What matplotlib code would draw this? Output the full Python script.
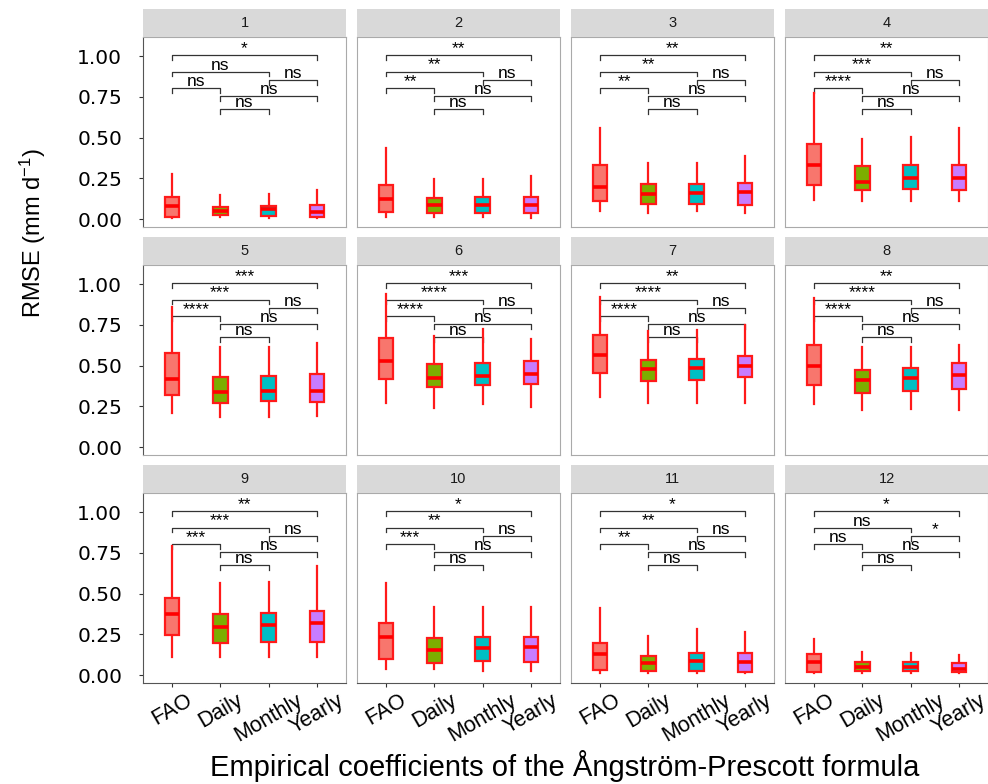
import numpy as np
import matplotlib.pyplot as plt

plt.rcParams['font.family'] = ['Liberation Sans', 'DejaVu Sans']
plt.rcParams['mathtext.fontset'] = 'custom'
plt.rcParams['mathtext.rm'] = 'Liberation Sans'
plt.rcParams['mathtext.default'] = 'regular'

methods = ["FAO", "Daily", "Monthly", "Yearly"]
panels = [str(i) for i in range(1, 13)]
fills = ["#F8766D", "#7CAE00", "#00BFC4", "#C77CFF"]

# box summaries per panel, values for FAO, Daily, Monthly, Yearly
whis_lo = [
    [0.004, 0.010, 0.004, 0.004],
    [0.014, 0.010, 0.010, 0.006],
    [0.051, 0.035, 0.047, 0.039],
    [0.117, 0.110, 0.110, 0.110],
    [0.207, 0.186, 0.186, 0.192],
    [0.268, 0.237, 0.264, 0.247],
    [0.309, 0.268, 0.272, 0.272],
    [0.264, 0.227, 0.231, 0.227],
    [0.112, 0.112, 0.108, 0.108],
    [0.035, 0.035, 0.027, 0.022],
    [0.010, 0.014, 0.010, 0.010],
    [0.010, 0.014, 0.014, 0.010],
]
q1 = [
    [0.014, 0.025, 0.018, 0.014],
    [0.043, 0.035, 0.035, 0.035],
    [0.110, 0.090, 0.094, 0.088],
    [0.209, 0.178, 0.182, 0.178],
    [0.319, 0.270, 0.282, 0.278],
    [0.415, 0.366, 0.378, 0.385],
    [0.456, 0.405, 0.411, 0.431],
    [0.378, 0.333, 0.344, 0.356],
    [0.245, 0.194, 0.202, 0.202],
    [0.098, 0.076, 0.088, 0.082],
    [0.031, 0.027, 0.022, 0.020],
    [0.018, 0.027, 0.027, 0.018],
]
med = [
    [0.080, 0.049, 0.060, 0.045],
    [0.125, 0.088, 0.084, 0.088],
    [0.198, 0.151, 0.162, 0.164],
    [0.331, 0.229, 0.250, 0.250],
    [0.417, 0.335, 0.346, 0.346],
    [0.528, 0.425, 0.437, 0.448],
    [0.562, 0.476, 0.482, 0.497],
    [0.497, 0.411, 0.421, 0.442],
    [0.372, 0.296, 0.307, 0.317],
    [0.233, 0.153, 0.168, 0.174],
    [0.129, 0.076, 0.084, 0.078],
    [0.078, 0.050, 0.051, 0.039],
]
q3 = [
    [0.137, 0.075, 0.080, 0.084],
    [0.209, 0.127, 0.133, 0.133],
    [0.331, 0.217, 0.213, 0.223],
    [0.462, 0.327, 0.333, 0.333],
    [0.579, 0.431, 0.436, 0.446],
    [0.667, 0.509, 0.517, 0.530],
    [0.687, 0.534, 0.538, 0.558],
    [0.626, 0.472, 0.487, 0.513],
    [0.472, 0.374, 0.380, 0.395],
    [0.317, 0.225, 0.235, 0.233],
    [0.198, 0.117, 0.133, 0.133],
    [0.127, 0.080, 0.080, 0.074],
]
whis_hi = [
    [0.276, 0.147, 0.151, 0.176],
    [0.438, 0.243, 0.243, 0.264],
    [0.560, 0.345, 0.341, 0.387],
    [0.771, 0.489, 0.501, 0.556],
    [0.861, 0.616, 0.616, 0.636],
    [0.937, 0.681, 0.722, 0.663],
    [0.922, 0.714, 0.718, 0.748],
    [0.912, 0.616, 0.616, 0.626],
    [0.791, 0.566, 0.569, 0.671],
    [0.562, 0.415, 0.419, 0.415],
    [0.413, 0.241, 0.282, 0.264],
    [0.221, 0.139, 0.133, 0.121],
]

# pairwise comparisons (method indices) and the height of each bracket
pairs = [(0, 3), (0, 2), (2, 3), (0, 1), (1, 3), (1, 2)]
bracket_y = [1.005, 0.905, 0.855, 0.805, 0.753, 0.673]
sig = [
    ["*", "ns", "ns", "ns", "ns", "ns"],
    ["**", "**", "ns", "**", "ns", "ns"],
    ["**", "**", "ns", "**", "ns", "ns"],
    ["**", "***", "ns", "****", "ns", "ns"],
    ["***", "***", "ns", "****", "ns", "ns"],
    ["***", "****", "ns", "****", "ns", "ns"],
    ["**", "****", "ns", "****", "ns", "ns"],
    ["**", "****", "ns", "****", "ns", "ns"],
    ["**", "***", "ns", "***", "ns", "ns"],
    ["*", "**", "ns", "***", "ns", "ns"],
    ["*", "**", "ns", "**", "ns", "ns"],
    ["*", "ns", "*", "ns", "ns", "ns"],
]
yticks = [0.0, 0.25, 0.5, 0.75, 1.0]

W, H = 988, 784
fig = plt.figure(figsize=(W / 100, H / 100), dpi=100)


def px_axes(x, y, w, h):
    return fig.add_axes([x / W, 1 - (y + h) / H, w / W, h / H])


col_x = [143, 357, 571, 785]
row_y = [37, 265, 493]
panel_w, panel_h, strip_h = 203, 190, 28
pos = np.arange(1, 5)
tip = 0.03

for k in range(12):
    r, c = divmod(k, 4)
    ax = px_axes(col_x[c], row_y[r], panel_w, panel_h)
    strip = px_axes(col_x[c], row_y[r] - strip_h, panel_w, strip_h)
    strip.set_facecolor("#D9D9D9")
    strip.set_xticks([])
    strip.set_yticks([])
    for s in strip.spines.values():
        s.set_visible(False)
    strip.text(0.5, 0.5, panels[k], ha="center", va="center", fontsize=10.5, color="#1A1A1A",
               transform=strip.transAxes)

    # significance brackets
    for (i, j), yb, lab in zip(pairs, bracket_y, sig[k]):
        x1, x2 = pos[i], pos[j]
        ax.plot([x1, x1, x2, x2], [yb - tip, yb, yb, yb - tip], color="#333333", lw=0.9, zorder=1)
        ax.text((x1 + x2) / 2, yb + 0.012, lab, ha="center", va="baseline", fontsize=12.5,
                color="black", zorder=1)

    stats = []
    for m in range(4):
        stats.append(dict(whislo=whis_lo[k][m], q1=q1[k][m], med=med[k][m], q3=q3[k][m],
                          whishi=whis_hi[k][m], fliers=[]))
    bp = ax.bxp(stats, positions=pos, widths=0.31, patch_artist=True, showcaps=False,
                showfliers=False,
                boxprops=dict(edgecolor="#FF1A1A", linewidth=1.6),
                medianprops=dict(color="#FF0000", linewidth=2.6, solid_capstyle="butt"),
                whiskerprops=dict(color="#FF1A1A", linewidth=1.6))
    for patch, fc in zip(bp["boxes"], fills):
        patch.set_facecolor(fc)
        patch.set_zorder(3)
    for ln in bp["medians"]:
        ln.set_zorder(4)

    ax.set_xlim(0.4, 4.6)
    ax.set_ylim(-0.049, 1.117)
    ax.set_yticks(yticks)
    ax.set_xticks(pos)
    for s in ax.spines.values():
        s.set_color("#AAAAAA")
        s.set_linewidth(0.8)

    if c == 0:
        ax.spines["left"].set_color("#555555")
        ax.set_yticklabels([f"{v:.2f}" for v in yticks], fontsize=14.5, color="black",
                           family="DejaVu Sans")
        ax.tick_params(axis="y", length=3, color="#333333", pad=12)
    else:
        ax.set_yticklabels([])
        ax.tick_params(axis="y", length=0)

    if r == 2:
        ax.spines["bottom"].set_color("#555555")
        ax.set_xticklabels(methods, fontsize=15.5, rotation=30, color="black")
        ax.tick_params(axis="x", length=3, color="#333333", pad=2)
    else:
        ax.set_xticklabels([])
        ax.tick_params(axis="x", length=0)

fig.text(33 / W, 1 - 233 / H, "RMSE (mm d$^{-1}$)", rotation=90, ha="center", va="center",
         fontsize=17)
fig.text(565 / W, 1 - 766 / H, "Empirical coefficients of the Ångström-Prescott formula",
         ha="center", va="center", fontsize=21)

fig.savefig("out.png", dpi=100)
